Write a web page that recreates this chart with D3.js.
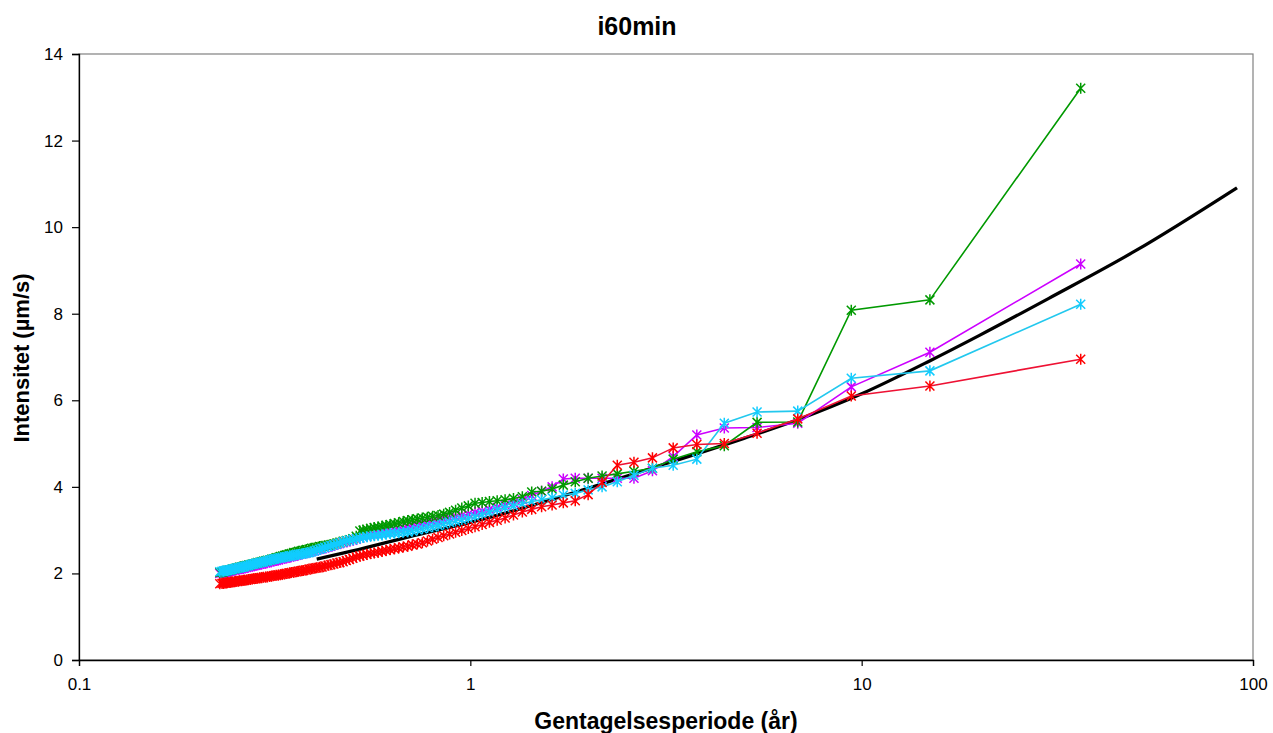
<!DOCTYPE html>
<html>
<head>
<meta charset="utf-8">
<script src="https://cdn.jsdelivr.net/npm/d3@7"></script>
<style>
  html, body { margin: 0; padding: 0; background: #ffffff; }
  svg { display: block; font-family: "Liberation Sans", Arial, sans-serif; }
</style>
</head>
<body>
<svg id="chart" width="1273" height="733"></svg>
<script>
// ---- data ----
const chartTitle = "i60min";
const xTitle = "Gentagelsesperiode (år)";
const yTitle = "Intensitet (µm/s)";
const xTickValues = [0.1, 1, 10, 100];
const xTickLabels = ["0.1", "1", "10", "100"];
const yTickValues = [0, 2, 4, 6, 8, 10, 12, 14];

// return period (years) for each ranked event
const returnPeriods = [
  36.286, 14.941, 9.407, 6.865, 5.404, 4.456, 3.791, 3.299, 2.920, 2.619,
  2.374, 2.171, 2.000, 1.854, 1.728, 1.618, 1.521, 1.435, 1.358, 1.289,
  1.227, 1.171, 1.119, 1.072, 1.028, 0.988, 0.951, 0.917, 0.885, 0.855,
  0.827, 0.801, 0.777, 0.754, 0.732, 0.711, 0.692, 0.674, 0.656, 0.640,
  0.624, 0.609, 0.595, 0.581, 0.568, 0.556, 0.544, 0.532, 0.522, 0.511,
  0.501, 0.491, 0.482, 0.473, 0.464, 0.456, 0.448, 0.440, 0.433, 0.425,
  0.418, 0.412, 0.405, 0.399, 0.393, 0.387, 0.381, 0.375, 0.370, 0.364,
  0.359, 0.354, 0.349, 0.345, 0.340, 0.336, 0.331, 0.327, 0.323, 0.319,
  0.315, 0.311, 0.307, 0.303, 0.300, 0.296, 0.293, 0.290, 0.286, 0.283,
  0.280, 0.277, 0.274, 0.271, 0.268, 0.265, 0.263, 0.260, 0.257, 0.255,
  0.252, 0.250, 0.247, 0.245, 0.243, 0.240, 0.238, 0.236, 0.234, 0.232, 0.229
];

const greenValues = [
  13.21, 8.32, 8.08, 5.50, 5.49, 4.95, 4.81, 4.64, 4.43, 4.36,
  4.30, 4.25, 4.20, 4.12, 4.04, 3.95, 3.90, 3.88, 3.77, 3.73,
  3.70, 3.68, 3.66, 3.64, 3.62, 3.56, 3.51, 3.46, 3.41, 3.37,
  3.34, 3.32, 3.30, 3.28, 3.26, 3.24, 3.22, 3.20, 3.17, 3.15,
  3.13, 3.11, 3.09, 3.07, 3.06, 3.04, 3.02, 3.00, 2.98, 2.86,
  2.80, 2.78, 2.76, 2.74, 2.72, 2.70, 2.68, 2.66, 2.65, 2.64,
  2.63, 2.62, 2.60, 2.59, 2.58, 2.56, 2.55, 2.53, 2.52, 2.51,
  2.49, 2.48, 2.46, 2.45, 2.43, 2.42, 2.40, 2.39, 2.37, 2.36,
  2.34, 2.33, 2.31, 2.30, 2.29, 2.28, 2.27, 2.26, 2.25, 2.23,
  2.22, 2.21, 2.20, 2.19, 2.18, 2.17, 2.16, 2.15, 2.14, 2.13,
  2.12, 2.11, 2.10, 2.09, 2.08, 2.07, 2.06, 2.05, 2.04, 2.03, 2.02
];

const magentaValues = [
  9.15, 7.11, 6.31, 5.47, 5.37, 5.36, 5.20, 4.70, 4.37, 4.20,
  4.20, 4.20, 4.20, 4.20, 4.18, 4.00, 3.90, 3.80, 3.70, 3.63,
  3.58, 3.53, 3.48, 3.44, 3.41, 3.37, 3.34, 3.31, 3.28, 3.25,
  3.22, 3.20, 3.17, 3.15, 3.12, 3.10, 3.07, 3.05, 3.02, 3.00,
  2.98, 2.96, 2.94, 2.92, 2.90, 2.88, 2.86, 2.84, 2.82, 2.79,
  2.77, 2.75, 2.73, 2.71, 2.69, 2.67, 2.65, 2.63, 2.61, 2.59,
  2.57, 2.56, 2.54, 2.52, 2.51, 2.49, 2.48, 2.46, 2.45, 2.43,
  2.42, 2.40, 2.39, 2.38, 2.36, 2.35, 2.34, 2.33, 2.31, 2.30,
  2.29, 2.28, 2.27, 2.25, 2.24, 2.23, 2.22, 2.21, 2.20, 2.19,
  2.18, 2.17, 2.16, 2.15, 2.14, 2.13, 2.12, 2.11, 2.10, 2.10,
  2.09, 2.08, 2.07, 2.06, 2.05, 2.04, 2.03, 2.02, 2.02, 2.01, 2.00
];

const cyanValues = [
  8.22, 6.68, 6.51, 5.75, 5.73, 5.47, 4.64, 4.50, 4.43, 4.27,
  4.12, 4.00, 3.93, 3.85, 3.81, 3.75, 3.70, 3.66, 3.61, 3.56,
  3.52, 3.47, 3.41, 3.36, 3.31, 3.27, 3.24, 3.21, 3.18, 3.14,
  3.11, 3.08, 3.06, 3.03, 3.01, 2.98, 2.96, 2.95, 2.94, 2.93,
  2.92, 2.91, 2.89, 2.88, 2.87, 2.86, 2.85, 2.83, 2.82, 2.80,
  2.78, 2.77, 2.75, 2.73, 2.70, 2.68, 2.66, 2.64, 2.62, 2.60,
  2.58, 2.56, 2.54, 2.52, 2.50, 2.48, 2.47, 2.46, 2.45, 2.44,
  2.43, 2.42, 2.41, 2.40, 2.39, 2.38, 2.37, 2.36, 2.35, 2.34,
  2.33, 2.32, 2.31, 2.29, 2.28, 2.27, 2.26, 2.25, 2.24, 2.23,
  2.22, 2.21, 2.20, 2.18, 2.17, 2.16, 2.15, 2.14, 2.13, 2.13,
  2.12, 2.11, 2.10, 2.09, 2.08, 2.07, 2.07, 2.06, 2.05, 2.05, 2.04
];

const redValues = [
  6.95, 6.33, 6.10, 5.57, 5.24, 5.00, 4.98, 4.90, 4.67, 4.57,
  4.50, 4.10, 3.82, 3.68, 3.63, 3.58, 3.54, 3.48, 3.42, 3.35,
  3.28, 3.23, 3.18, 3.13, 3.08, 3.04, 2.99, 2.95, 2.91, 2.87,
  2.83, 2.79, 2.75, 2.71, 2.68, 2.66, 2.63, 2.61, 2.59, 2.57,
  2.55, 2.53, 2.51, 2.49, 2.47, 2.46, 2.44, 2.42, 2.40, 2.38,
  2.35, 2.32, 2.30, 2.27, 2.25, 2.24, 2.22, 2.20, 2.19, 2.17,
  2.15, 2.14, 2.13, 2.12, 2.11, 2.10, 2.08, 2.07, 2.06, 2.05,
  2.04, 2.03, 2.02, 2.01, 2.00, 1.99, 1.98, 1.97, 1.96, 1.96,
  1.95, 1.94, 1.93, 1.92, 1.92, 1.91, 1.90, 1.90, 1.89, 1.88,
  1.88, 1.87, 1.86, 1.86, 1.85, 1.84, 1.84, 1.83, 1.83, 1.82,
  1.82, 1.81, 1.80, 1.80, 1.79, 1.79, 1.78, 1.78, 1.77, 1.77, 1.76
];

// fitted curve (black)
const fitT = [0.405, 0.5, 0.7, 1, 1.5, 2, 3, 5, 7, 10, 15, 20, 30, 50, 91];
const fitY = [2.33, 2.52, 2.85, 3.18, 3.62, 3.97, 4.47, 5.12, 5.58, 6.15, 6.92, 7.50, 8.35, 9.45, 10.91];

const seriesNames = ["magenta", "green", "cyan", "red"];
const seriesValues = [magentaValues, greenValues, cyanValues, redValues];
const seriesLineColors = ["#cc00ff", "#009900", "#22c8ee", "#ee1133"];
const seriesMarkerColors = ["#cc00ff", "#009900", "#11ccff", "#ff0000"];

// ---- layout ----
const svg = d3.select("#chart");
const plot = { left: 79, right: 1253, top: 54, bottom: 660 };

const x = d3.scaleLog().domain([0.1, 100]).range([plot.left, plot.right]);
const y = d3.scaleLinear().domain([0, 14]).range([plot.bottom, plot.top]);

// plot area frame (top/right)
svg.append("rect")
  .attr("x", plot.left).attr("y", plot.top)
  .attr("width", plot.right - plot.left).attr("height", plot.bottom - plot.top)
  .attr("fill", "none").attr("stroke", "#808080").attr("stroke-width", 1.2);

// axes
const yAxis = d3.axisLeft(y).tickValues(yTickValues).tickSize(7).tickPadding(9).tickFormat(d3.format("d"));
const xAxis = d3.axisBottom(x).tickValues(xTickValues).tickSize(6).tickPadding(12)
  .tickFormat((d, i) => xTickLabels[i]);

const gy = svg.append("g").attr("transform", `translate(${plot.left},0)`).call(yAxis);
const gx = svg.append("g").attr("transform", `translate(0,${plot.bottom})`).call(xAxis);
[gx, gy].forEach(g => {
  g.select(".domain").attr("stroke", "#000").attr("stroke-width", 1.3);
  g.selectAll(".tick line").attr("stroke", "#000").attr("stroke-width", 1.2);
  g.selectAll(".tick text").attr("fill", "#000").style("font-size", "17px")
    .style("font-family", "'Liberation Sans', Arial, sans-serif");
});

// black fitted line
const fitData = fitT.map((t, i) => ({ t: t, v: fitY[i] }));
svg.append("path")
  .datum(fitData)
  .attr("fill", "none")
  .attr("stroke", "#000")
  .attr("stroke-width", 3.2)
  .attr("d", d3.line().x(d => x(d.t)).y(d => y(d.v)).curve(d3.curveMonotoneX));

// series
const starPath = "M-4.5,-4.5L4.5,4.5M-4.5,4.5L4.5,-4.5M0,-5.5L0,5.5";
seriesValues.forEach((vals, si) => {
  const data = vals.map((v, i) => ({ t: returnPeriods[i], v: v }));
  const g = svg.append("g").attr("class", "series-" + seriesNames[si]);
  g.append("path")
    .datum(data)
    .attr("fill", "none")
    .attr("stroke", seriesLineColors[si])
    .attr("stroke-width", 1.6)
    .attr("d", d3.line().x(d => x(d.t)).y(d => y(d.v)));
  g.selectAll("path.mk")
    .data(data)
    .join("path")
    .attr("class", "mk")
    .attr("transform", d => `translate(${x(d.t)},${y(d.v)})`)
    .attr("d", starPath)
    .attr("fill", "none")
    .attr("stroke", seriesMarkerColors[si])
    .attr("stroke-width", 1.5);
});

// titles
svg.append("text")
  .attr("x", 637).attr("y", 35)
  .attr("text-anchor", "middle")
  .style("font-size", "25px").style("font-weight", "bold")
  .text(chartTitle);

svg.append("text")
  .attr("x", 666).attr("y", 729)
  .attr("text-anchor", "middle")
  .style("font-size", "23px").style("font-weight", "bold")
  .text(xTitle);

svg.append("text")
  .attr("transform", "translate(29,358) rotate(-90)")
  .attr("text-anchor", "middle")
  .style("font-size", "22px").style("font-weight", "bold")
  .text(yTitle);
</script>
</body>
</html>
